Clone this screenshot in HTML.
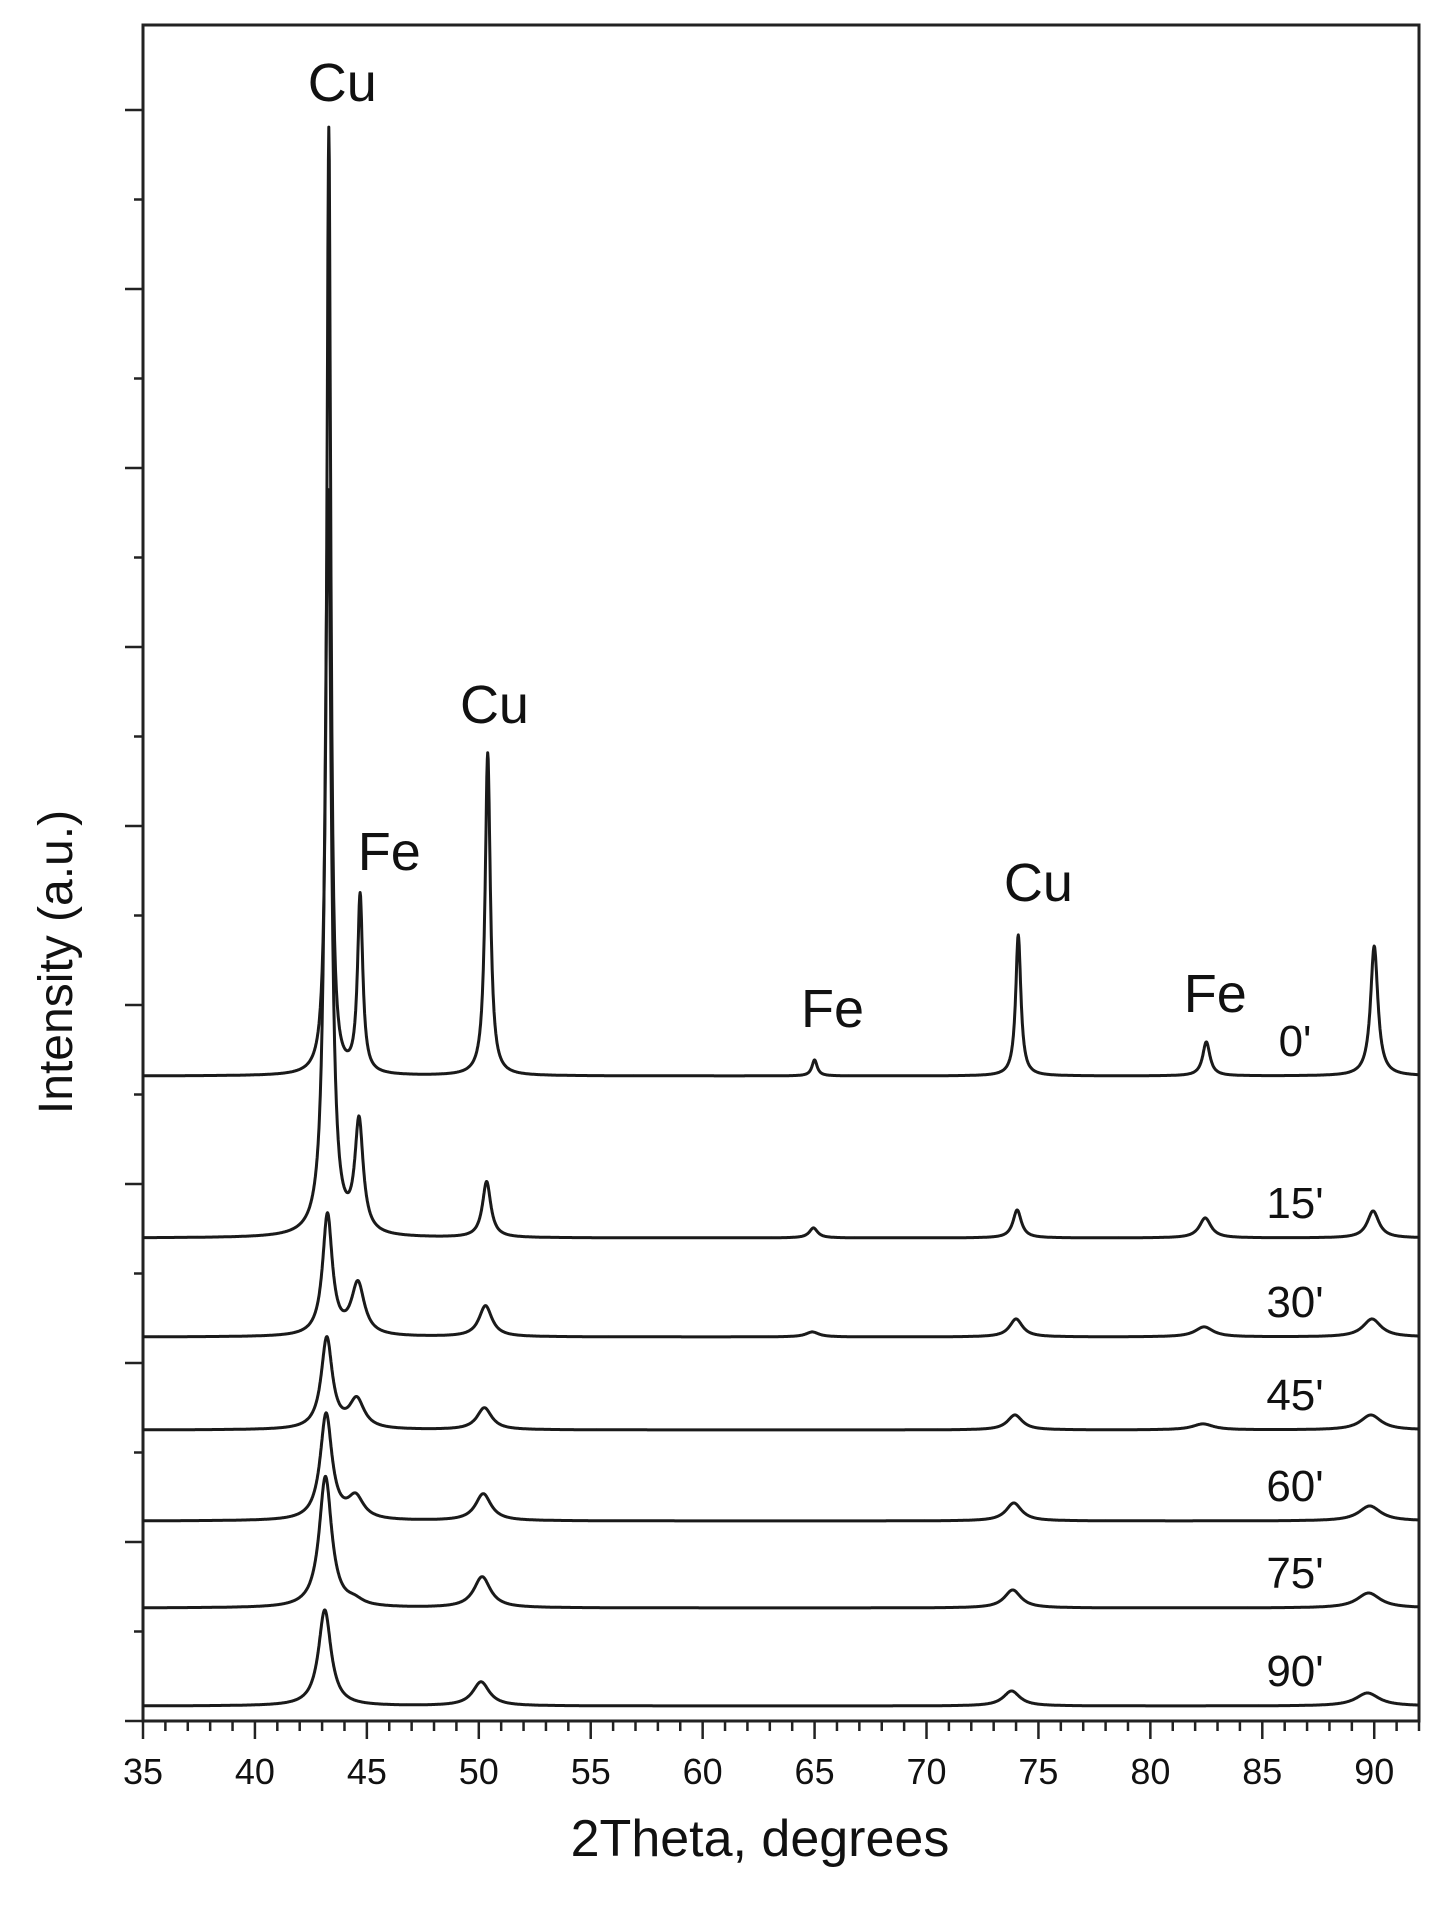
<!DOCTYPE html>
<html><head><meta charset="utf-8"><style>
html,body{margin:0;padding:0;background:#fff}
svg text{font-family:"Liberation Sans",Arial,sans-serif;fill:#111}
</style></head><body>
<svg id="chart" width="1446" height="1920" viewBox="0 0 1446 1920" xmlns="http://www.w3.org/2000/svg">
<g id="plot"></g>
</svg>
<script>
// ---- data ----
const seriesLabels = ["0'", "15'", "30'", "45'", "60'", "75'", "90'"];
const offsets = [645, 483, 384, 291, 200, 113, 15];
const peakCenters0 = [43.3, 44.7, 50.4, 65.0, 74.1, 82.5, 90.0];
const peakShift = [0, 0.05, 0.1, 0.15, 0.2, 0.25, 0.3];
const peakHeights = [
  [947, 178, 323, 16, 141, 34, 130],
  [748, 111, 56, 10, 28, 20, 27],
  [121, 52, 31, 5, 18, 10, 18],
  [91, 29, 22, 0, 15, 6, 15],
  [106, 22, 27, 0, 18, 0, 15],
  [131, 5, 31, 0, 18, 0, 15],
  [96, 0, 24, 0, 15, 0, 13]
];
const peakWidths = [0.28, 0.45, 0.7, 0.8, 0.85, 0.9, 0.9];
const xTicks = [35, 40, 45, 50, 55, 60, 65, 70, 75, 80, 85, 90];
const peakNames = ["Cu", "Fe", "Cu", "Fe", "Cu", "Fe"];
const peakNameX = [43.9, 46.0, 50.7, 65.8, 75.0, 82.9];
const peakNameVal = [1620, 851, 998, 694, 820, 709];

// ---- axes ----
const L = 143, R = 1419, T = 25, B = 1721;
const xMin = 35, xMax = 92;
const xs = v => L + (v - xMin) / (xMax - xMin) * (R - L);
const ys = v => B - v;
const NS = "http://www.w3.org/2000/svg";
const plot = document.getElementById('plot');
function mk(tag, attrs, parent) {
  const e = document.createElementNS(NS, tag);
  for (const k in attrs) e.setAttribute(k, attrs[k]);
  (parent || plot).appendChild(e);
  return e;
}

// frame
const frame = mk('rect', {x: L, y: T, width: R - L, height: B - T, fill: 'none', stroke: '#222', 'stroke-width': 3});



// x ticks
for (let v = 35; v <= 92; v++) {
  const major = v % 5 === 0;
  const t = mk('line', {x1: xs(v), x2: xs(v), y1: B, y2: B + (major ? 18 : 10), stroke: '#222', 'stroke-width': 2.5});
  
  
}
xTicks.forEach(v => {
  const t = mk('text', {x: xs(v), y: B + 63, 'font-size': 36, 'text-anchor': 'middle'});
  t.textContent = v;
  
  
});
// y ticks
for (let k = 0; k <= 19; k++) {
  const y = B - k * 89.5;
  if (y < T + 5) break;
  const major = k % 2 === 0;
  const t = mk('line', {x1: L, x2: L - (major ? 18 : 9), y1: y, y2: y, stroke: '#222', 'stroke-width': 2.5});
  
  
}
const xt = mk('text', {x: 760, y: 1856, 'font-size': 52, 'text-anchor': 'middle'});
xt.textContent = '2Theta,  degrees';


const yt = mk('text', {x: 0, y: 0, 'font-size': 48, 'text-anchor': 'middle', transform: 'translate(72,962) rotate(-90)'});
yt.textContent = 'Intensity (a.u.)';



// series
seriesLabels.forEach((lab, i) => {
  const w = peakWidths[i];
  let d = '';
  for (let x = 35; x <= 92; x += 0.02) {
    let v = offsets[i];
    peakCenters0.forEach((c0, j) => {
      const c = c0 - peakShift[i] * (j === 0 ? 0.6 : 1);
      const ww = w * (j === 0 ? 0.75 : 1) * (c0 > 80 ? 1.4 : 1);
      const u = (x - c) / (ww / 2);
      v += peakHeights[i][j] / (1 + u * u);
    });
    d += (d ? 'L' : 'M') + xs(x).toFixed(1) + ',' + ys(v).toFixed(1);
  }
  const p = mk('path', {d: d, fill: 'none', stroke: '#1a1a1a', 'stroke-width': 3, 'stroke-linejoin': 'round'});
  
  
  const t = mk('text', {x: 1295, y: ys(offsets[i]) - 20, 'font-size': 44, 'text-anchor': 'middle'});
  t.textContent = lab;
  
  
});

// peak annotations
peakNames.forEach((n, k) => {
  const t = mk('text', {x: xs(peakNameX[k]), y: ys(peakNameVal[k]), 'font-size': 54, 'text-anchor': 'middle'});
  t.textContent = n;
  
  
});
</script>
</body></html>
